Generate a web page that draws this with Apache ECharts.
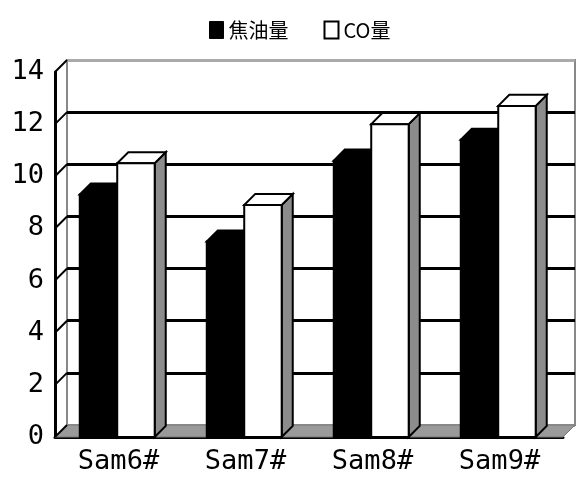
<!DOCTYPE html>
<html>
<head>
<meta charset="utf-8">
<script src="https://cdn.jsdelivr.net/npm/echarts@6/dist/echarts.min.js"></script>
<style>
  html, body { margin: 0; padding: 0; background: #fff; }
  #chart { width: 578px; height: 479px; }
</style>
</head>
<body>
<div id="chart"></div>
<script>
// 数据
const categories = ['Sam6#', 'Sam7#', 'Sam8#', 'Sam9#']
const tarValues = [9.3, 7.5, 10.6, 11.4]   // 焦油量
const coValues = [10.5, 8.9, 12.0, 12.7]   // CO量
const yMin = 0
const yMax = 14
const yStep = 2

const labelFont = 'DejaVu Sans Mono'
const depth = 12

// 立体柱子
function renderBar(params, api) {
  const idx = api.value(0)
  const val = api.value(1)
  const top = api.coord([idx, val])
  const base = api.coord([idx, 0])
  const catW = api.size([1, 0])[0]
  const w = catW * 0.295
  const d = catW * 0.087
  const isTar = params.seriesIndex === 1
  const x0 = isTar ? top[0] - catW * 0.305 : top[0] - catW * 0.01
  const x1 = x0 + w
  const yT = top[1]
  const yB = base[1]
  const fill = isTar ? '#000' : '#fff'
  const stroke = { stroke: '#000', lineWidth: 2 }
  return {
    type: 'group',
    children: [
      {
        type: 'polygon',
        shape: { points: [[x1, yT], [x1 + d, yT - d], [x1 + d, yB - d], [x1, yB]] },
        style: Object.assign({ fill: isTar ? '#000' : '#8c8c8c' }, stroke)
      },
      {
        type: 'polygon',
        shape: { points: [[x0, yT], [x0 + d, yT - d], [x1 + d, yT - d], [x1, yT]] },
        style: Object.assign({ fill: fill }, stroke)
      },
      {
        type: 'rect',
        shape: { x: x0, y: yT, width: w, height: yB - yT },
        style: Object.assign({ fill: fill }, stroke)
      }
    ]
  }
}

// 底面和左侧墙
function renderWalls(params, api) {
  const cs = params.coordSys
  const bx = cs.x
  const by = cs.y + cs.height
  const children = [
    {
      type: 'polygon',
      shape: { points: [[bx, by], [bx + depth, by - depth], [bx + cs.width + depth, by - depth], [bx + cs.width, by]] },
      style: { fill: '#9a9a9a', stroke: '#777', lineWidth: 1 }
    }
  ]
  for (let v = yMin; v <= yMax; v += yStep) {
    const y = api.coord([0, v])[1]
    children.push({
      type: 'line',
      shape: { x1: bx, y1: y, x2: bx + depth, y2: y - depth },
      style: { stroke: '#000', lineWidth: 2 }
    })
  }
  return { type: 'group', children: children }
}

const splitColors = ['#999', '#000', '#000', '#000', '#000', '#000', '#000', '#aaa']

const mycharts = echarts.init(document.getElementById('chart'))
mycharts.setOption({
  animation: false,
  backgroundColor: '#fff',
  legend: {
    left: 204,
    top: 15,
    icon: 'rect',
    itemWidth: 14,
    itemHeight: 17,
    itemGap: 35,
    textStyle: { fontSize: 20, color: '#000', fontFamily: 'Noto Sans CJK SC' },
    data: [
      { name: '焦油量', itemStyle: { color: '#000', borderColor: '#000', borderWidth: 1 } },
      { name: 'CO量', itemStyle: { color: '#fff', borderColor: '#000', borderWidth: 2 } }
    ]
  },
  grid: [
    { left: 55, right: 15, top: 72, bottom: 42 },
    { left: 67, right: 3, top: 60, bottom: 54, show: true, borderColor: '#888', borderWidth: 2, backgroundColor: '#fff', z: 0 }
  ],
  xAxis: [
    {
      type: 'category',
      gridIndex: 0,
      data: categories,
      axisLine: { lineStyle: { color: '#000', width: 3 } },
      axisTick: { show: false },
      axisLabel: { margin: 11, fontSize: 27, color: '#000', fontFamily: labelFont }
    },
    {
      type: 'category',
      gridIndex: 1,
      data: categories,
      show: false
    }
  ],
  yAxis: [
    {
      type: 'value',
      gridIndex: 0,
      min: yMin,
      max: yMax,
      interval: yStep,
      axisLine: { show: true, lineStyle: { color: '#000', width: 3 } },
      axisTick: { show: false },
      splitLine: { show: false },
      axisLabel: { margin: 11, fontSize: 27, color: '#000', fontFamily: labelFont }
    },
    {
      type: 'value',
      gridIndex: 1,
      min: yMin,
      max: yMax,
      interval: yStep,
      axisLine: { show: false },
      axisTick: { show: false },
      axisLabel: { show: false },
      splitLine: { show: true, lineStyle: { color: splitColors, width: 3 } }
    }
  ],
  series: [
    {
      name: 'walls',
      type: 'custom',
      xAxisIndex: 0,
      yAxisIndex: 0,
      silent: true,
      z: 1,
      renderItem: renderWalls,
      data: [[0, 0]]
    },
    {
      name: '焦油量',
      type: 'custom',
      xAxisIndex: 0,
      yAxisIndex: 0,
      z: 3,
      itemStyle: { color: '#000' },
      renderItem: renderBar,
      data: categories.map((c, i) => [i, tarValues[i]])
    },
    {
      name: 'CO量',
      type: 'custom',
      xAxisIndex: 0,
      yAxisIndex: 0,
      z: 4,
      itemStyle: { color: '#fff', borderColor: '#000' },
      renderItem: renderBar,
      data: categories.map((c, i) => [i, coValues[i]])
    }
  ]
})
</script>
</body>
</html>
